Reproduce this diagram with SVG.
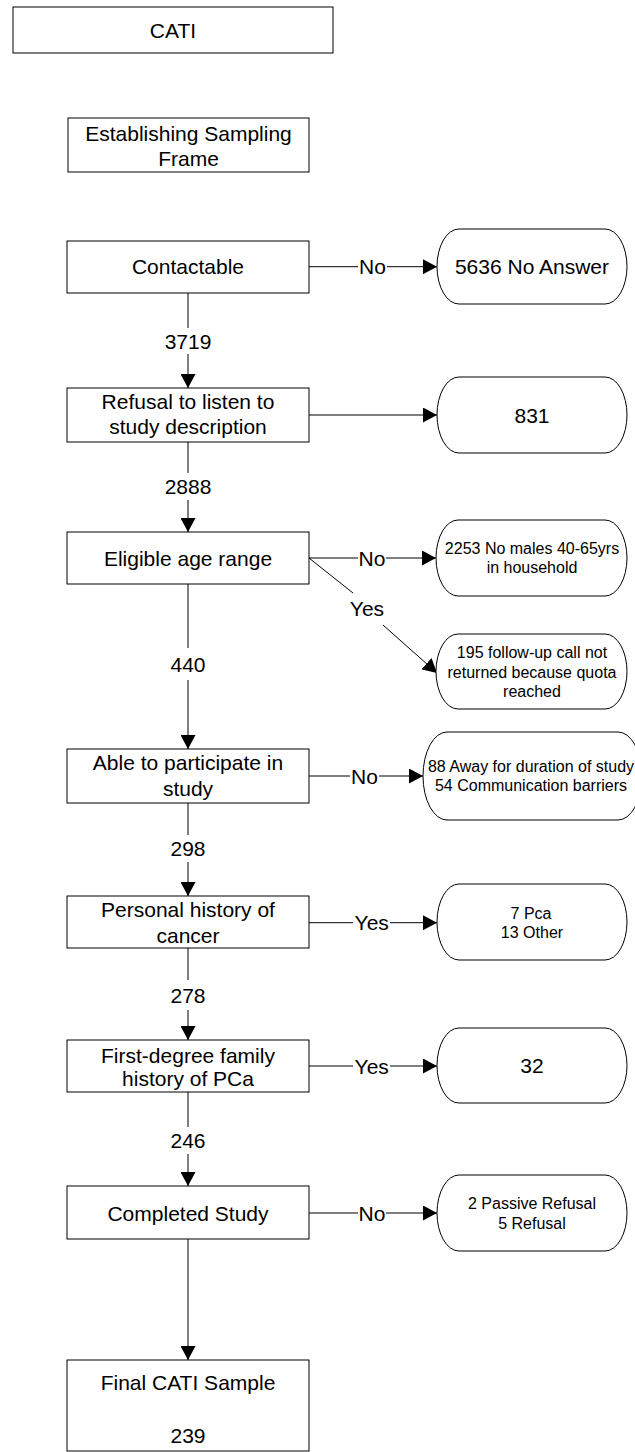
<svg xmlns="http://www.w3.org/2000/svg" width="635" height="1452" viewBox="0 0 635 1452">
<style>
.box{fill:#fff;stroke:#000;stroke-width:1}
.cap{fill:#fff;stroke:#000;stroke-width:1}
.t{font-family:"Liberation Sans",Arial,sans-serif;font-size:21px;fill:#000;text-anchor:middle}
.s{font-family:"Liberation Sans",Arial,sans-serif;font-size:16px;fill:#000;text-anchor:middle}
.ln{fill:none;stroke:#000;stroke-width:1}
</style>
<defs>
<marker id="ah" markerUnits="userSpaceOnUse" markerWidth="14" markerHeight="15" refX="14" refY="7.5" orient="auto">
<path d="M0,0 L14,7.5 L0,15 z" fill="#000"/>
</marker>
</defs>
<rect width="635" height="1452" fill="#fff"/>

<g id="connectors">
<path class="ln" d="M188,293 V328"/>
<path class="ln" d="M188,354 V388" marker-end="url(#ah)"/>
<path class="ln" d="M188,442 V473"/>
<path class="ln" d="M188,500 V532" marker-end="url(#ah)"/>
<path class="ln" d="M188,584 V648"/>
<path class="ln" d="M188,680 V749" marker-end="url(#ah)"/>
<path class="ln" d="M188,803 V835"/>
<path class="ln" d="M188,862 V896" marker-end="url(#ah)"/>
<path class="ln" d="M188,948 V980"/>
<path class="ln" d="M188,1010 V1040" marker-end="url(#ah)"/>
<path class="ln" d="M188,1092 V1127"/>
<path class="ln" d="M188,1154 V1186" marker-end="url(#ah)"/>
<path class="ln" d="M188,1239 V1360" marker-end="url(#ah)"/>

<path class="ln" d="M309,266.7 H358"/>
<path class="ln" d="M387,266.7 H437" marker-end="url(#ah)"/>
<path class="ln" d="M309,415 H437" marker-end="url(#ah)"/>
<path class="ln" d="M309,558 H358"/>
<path class="ln" d="M386,558 H436" marker-end="url(#ah)"/>
<path class="ln" d="M309,558 L353,593"/>
<path class="ln" d="M383,625 L437,673" marker-end="url(#ah)"/>
<path class="ln" d="M309,776 H350"/>
<path class="ln" d="M379,776 H423" marker-end="url(#ah)"/>
<path class="ln" d="M309,922.7 H353"/>
<path class="ln" d="M390,922.7 H437" marker-end="url(#ah)"/>
<path class="ln" d="M309,1066 H353"/>
<path class="ln" d="M390,1066 H437" marker-end="url(#ah)"/>
<path class="ln" d="M309,1213 H358"/>
<path class="ln" d="M386,1213 H437" marker-end="url(#ah)"/>

<text class="t" x="372.5" y="274">No</text>
<text class="t" x="188" y="349">3719</text>
<text class="t" x="188" y="494">2888</text>
<text class="t" x="372" y="566">No</text>
<text class="t" x="367" y="616">Yes</text>
<text class="t" x="188" y="671.5">440</text>
<text class="t" x="364.5" y="783.5">No</text>
<text class="t" x="188" y="856">298</text>
<text class="t" x="371.7" y="930">Yes</text>
<text class="t" x="188" y="1002.5">278</text>
<text class="t" x="371.7" y="1073.5">Yes</text>
<text class="t" x="188" y="1147.5">246</text>
<text class="t" x="372" y="1221">No</text>
</g>

<g id="cati"><rect class="box" x="13" y="7" width="320" height="46"/><text class="t" x="173" y="37.5">CATI</text></g>
<g id="sampling-frame"><rect class="box" x="68" y="118" width="241" height="54"/><text class="t" x="188.5" y="141">Establishing Sampling</text><text class="t" x="188.5" y="166">Frame</text></g>
<g id="contactable"><rect class="box" x="67" y="241" width="242" height="52"/><text class="t" x="188" y="274">Contactable</text></g>
<g id="no-answer"><rect class="cap" x="437" y="229" width="190" height="75" rx="22" ry="37.5"/><text class="t" x="532" y="274">5636 No Answer</text></g>
<g id="refusal"><rect class="box" x="67" y="388" width="242" height="54"/><text class="t" x="188" y="409">Refusal to listen to</text><text class="t" x="188" y="434">study description</text></g>
<g id="r831"><rect class="cap" x="437" y="377" width="190" height="76" rx="22" ry="38"/><text class="t" x="532" y="422.5">831</text></g>
<g id="eligible"><rect class="box" x="67" y="532" width="242" height="52"/><text class="t" x="188" y="566">Eligible age range</text></g>
<g id="no-males"><rect class="cap" x="436" y="520" width="191" height="76" rx="22" ry="38"/><text class="s" x="532" y="554">2253 No males 40-65yrs</text><text class="s" x="532" y="573">in household</text></g>
<g id="quota"><rect class="cap" x="436" y="634" width="191" height="75" rx="22" ry="37.5"/><text class="s" x="532" y="658">195 follow-up call not</text><text class="s" x="532" y="678">returned because quota</text><text class="s" x="532" y="697">reached</text></g>
<g id="able"><rect class="box" x="67" y="749" width="242" height="54"/><text class="t" x="188" y="770">Able to participate in</text><text class="t" x="188" y="796">study</text></g>
<g id="away"><rect class="cap" x="423" y="732" width="219" height="88" rx="24" ry="44"/><text class="s" x="531" y="771.7">88 Away for duration of study</text><text class="s" x="531" y="790.7">54 Communication barriers</text></g>
<g id="personal"><rect class="box" x="67" y="896" width="242" height="52"/><text class="t" x="188" y="917">Personal history of</text><text class="t" x="188" y="942.5">cancer</text></g>
<g id="pca"><rect class="cap" x="437" y="884" width="190" height="76" rx="22" ry="38"/><text class="s" x="531" y="919">7 Pca</text><text class="s" x="532" y="937.5">13 Other</text></g>
<g id="family"><rect class="box" x="67" y="1040" width="242" height="52"/><text class="t" x="188" y="1062.5">First-degree family</text><text class="t" x="188" y="1086">history of PCa</text></g>
<g id="r32"><rect class="cap" x="437" y="1028" width="190" height="75" rx="22" ry="37.5"/><text class="t" x="532" y="1073">32</text></g>
<g id="completed"><rect class="box" x="67" y="1186" width="242" height="53"/><text class="t" x="188" y="1221">Completed Study</text></g>
<g id="refusals"><rect class="cap" x="437" y="1175" width="190" height="76" rx="22" ry="38"/><text class="s" x="532" y="1208.5">2 Passive Refusal</text><text class="s" x="532" y="1228.5">5 Refusal</text></g>
<g id="final"><rect class="box" x="67" y="1360" width="242" height="91"/><text class="t" x="188" y="1390">Final CATI Sample</text><text class="t" x="188" y="1442.5">239</text></g>
</svg>
